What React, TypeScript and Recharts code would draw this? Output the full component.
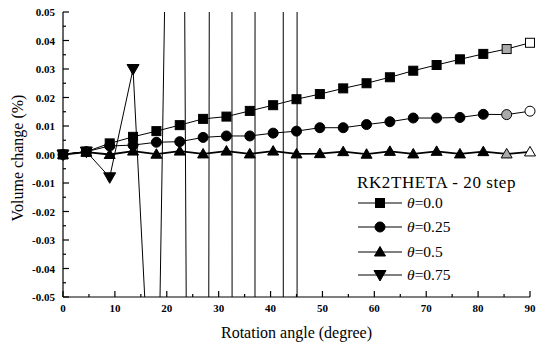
import React from 'react';
import { LineChart, Line, XAxis, YAxis } from 'recharts';

// rotation angle, 20 steps of 4.5 degrees
const angles = [0, 4.5, 9, 13.5, 18, 22.5, 27, 31.5, 36, 40.5, 45, 49.5, 54, 58.5, 63, 67.5, 72, 76.5, 81, 85.5, 90];

// volume change (%) for each theta
const theta00 = [0, 0.001, 0.0039, 0.0062, 0.0082, 0.0103, 0.0125, 0.0133, 0.0153, 0.0173, 0.0194, 0.0212, 0.0232, 0.025, 0.0271, 0.0294, 0.0314, 0.0334, 0.0353, 0.037, 0.0392];
const theta025 = [0, 0.001, 0.003, 0.0033, 0.0043, 0.0045, 0.006, 0.0065, 0.0065, 0.0075, 0.0082, 0.0094, 0.0094, 0.0105, 0.0115, 0.0128, 0.0128, 0.013, 0.0141, 0.014, 0.0152];
const theta05 = [0, 0.0008, 0, 0.0012, 0.0001, 0.0012, 0.0002, 0.0012, 0.0002, 0.0012, 0.0002, 0.0003, 0.001, 0.0001, 0.0011, 0.0002, 0.0011, 0.0002, 0.001, 0.0002, 0.0009];
// theta = 0.75 blows up after ~15 degrees (values far outside the axis range)
const theta075 = [0, 0.001, -0.008, 0.03, -0.13, 0.385, -1.19, 3.5, -11.2, 39, -51, 2000, null, null, null, null, null, null, null, null, null];

const xTicks = [0, 5, 10, 15, 20, 25, 30, 35, 40, 45, 50, 55, 60, 65, 70, 75, 80, 85, 90];
const yTicks = [-0.05, -0.045, -0.04, -0.035, -0.03, -0.025, -0.02, -0.015, -0.01, -0.005, 0, 0.005, 0.01, 0.015, 0.02, 0.025, 0.03, 0.035, 0.04, 0.045, 0.05];

const legendItems = [
  { label: '=0.0', shape: 'square' },
  { label: '=0.25', shape: 'circle' },
  { label: '=0.5', shape: 'up' },
  { label: '=0.75', shape: 'down' },
];

const data = angles.map((a, i) => ({
  angle: a,
  t0: theta00[i],
  t25: theta025[i],
  t5: theta05[i],
  t75: theta075[i],
}));

const FONT = 'Liberation Serif, DejaVu Serif, serif';

const Marker = ({ shape, cx, cy, fill }: any) => {
  const common = { fill, stroke: '#000', strokeWidth: 1 };
  if (shape === 'square') return <rect x={cx - 4.5} y={cy - 4.5} width={9} height={9} {...common} />;
  if (shape === 'circle') return <circle cx={cx} cy={cy} r={5} {...common} />;
  if (shape === 'up') return <polygon points={`${cx},${cy - 5.5} ${cx + 5.5},${cy + 4} ${cx - 5.5},${cy + 4}`} {...common} />;
  return <polygon points={`${cx - 6},${cy - 4.5} ${cx + 6},${cy - 4.5} ${cx},${cy + 6}`} {...common} />;
};

const makeDot = (shape: string) => (props: any) => {
  const { cx, cy, index, value } = props;
  if (cx == null || cy == null || value == null) return <g key={`d-${shape}-${index}`} />;
  let fill = '#000';
  if (index === 19) fill = '#aaa';
  if (index === 20) fill = '#fff';
  return (
    <g key={`d-${shape}-${index}`}>
      <Marker shape={shape} cx={cx} cy={cy} fill={fill} />
    </g>
  );
};

const isMajor = (v: number, step: number) => Math.abs(v / step - Math.round(v / step)) < 1e-6;

const BottomTick = ({ x, y, payload }: any) => {
  const axisY = y - 6;
  const major = isMajor(payload.value, 10);
  return (
    <g>
      <line x1={x} x2={x} y1={axisY} y2={axisY - (major ? 6 : 3)} stroke="#000" strokeWidth={1.2} />
      {major && (
        <text x={x} y={axisY + 15} textAnchor="middle" style={{ fontSize: 11, fontWeight: 'bold', fontFamily: FONT }} fill="#000">
          {payload.value}
        </text>
      )}
    </g>
  );
};

const TopTick = ({ x, y, payload }: any) => {
  const major = isMajor(payload.value, 10);
  return <line x1={x} x2={x} y1={y} y2={y + (major ? 5 : 3)} stroke="#000" strokeWidth={1.2} />;
};

const LeftTick = ({ x, y, payload }: any) => {
  const axisX = x + 8;
  const major = isMajor(payload.value, 0.01);
  return (
    <g>
      <line x1={axisX} x2={axisX + (major ? 6 : 3)} y1={y} y2={y} stroke="#000" strokeWidth={1.2} />
      {major && (
        <text x={axisX - 8} y={y + 4} textAnchor="end" style={{ fontSize: 11, fontWeight: 'bold', fontFamily: FONT }} fill="#000">
          {payload.value.toFixed(2)}
        </text>
      )}
    </g>
  );
};

const RightTick = ({ x, y, payload }: any) => {
  const major = isMajor(payload.value, 0.01);
  return <line x1={x} x2={x - (major ? 5 : 3)} y1={y} y2={y} stroke="#000" strokeWidth={1.2} />;
};

const YTitle = () => (
  <text
    x={17}
    y={158}
    transform="rotate(-90, 17, 158)"
    textAnchor="middle"
    dominantBaseline="central"
    style={{ fontSize: 16, fontFamily: FONT }}
    fill="#000"
  >
    Volume change (%)
  </text>
);

const LegendOverlay = () => {
  const rowY = [203, 227, 252, 275];
  return (
    <svg width={537} height={347} style={{ position: 'absolute', left: 0, top: 0, pointerEvents: 'none' }}>
      <text x={357} y={188} style={{ fontSize: 17, fontFamily: FONT, letterSpacing: 0.6 }} fill="#000">
        RK2THETA - 20 step
      </text>
      {legendItems.map((item, i) => (
        <g key={item.label}>
          <line x1={358} x2={402} y1={rowY[i]} y2={rowY[i]} stroke="#000" strokeWidth={1} />
          <Marker shape={item.shape} cx={380} cy={rowY[i]} fill="#000" />
          <text x={407} y={rowY[i] + 5} style={{ fontSize: 15.5, fontFamily: FONT }} fill="#000">
            <tspan fontStyle="italic">θ</tspan>
            {item.label}
          </text>
        </g>
      ))}
    </svg>
  );
};

const App: React.FC = () => {
  return (
    <div style={{ position: 'absolute', left: 0, top: 0, width: 537, height: 347, background: '#fff', fontFamily: FONT }}>
      <LineChart width={537} height={347} data={data} margin={{ top: 12, right: 7, bottom: 0, left: 0 }}>
        <XAxis
          dataKey="angle"
          type="number"
          domain={[0, 90]}
          ticks={xTicks}
          tickSize={0}
          tickMargin={6}
          tick={<BottomTick />}
          axisLine={{ stroke: '#000', strokeWidth: 1.2 }}
          height={50}
          interval={0}
          label={{
            value: 'Rotation angle (degree)',
            position: 'insideBottom',
            offset: 9,
            style: { fontSize: 16, fontFamily: FONT, fill: '#000' },
          }}
        />
        <XAxis
          xAxisId="top"
          orientation="top"
          dataKey="angle"
          type="number"
          domain={[0, 90]}
          ticks={xTicks}
          tickSize={0}
          tickMargin={0}
          tick={<TopTick />}
          axisLine={{ stroke: '#000', strokeWidth: 1.2 }}
          height={0}
          interval={0}
        />
        <YAxis
          type="number"
          domain={[-0.05, 0.05]}
          ticks={yTicks}
          allowDataOverflow
          tickSize={0}
          tickMargin={8}
          tick={<LeftTick />}
          axisLine={{ stroke: '#000', strokeWidth: 1.2 }}
          width={63}
          interval={0}
          label={{ content: () => <YTitle /> }}
        />
        <YAxis
          yAxisId="right"
          orientation="right"
          type="number"
          domain={[-0.05, 0.05]}
          ticks={yTicks}
          allowDataOverflow
          tickSize={0}
          tickMargin={0}
          tick={<RightTick />}
          axisLine={{ stroke: '#000', strokeWidth: 1.2 }}
          width={0}
          interval={0}
        />
        <Line dataKey="t5" stroke="#000" strokeWidth={1.8} dot={makeDot('up')} isAnimationActive={false} />
        <Line dataKey="t25" stroke="#000" strokeWidth={1} dot={makeDot('circle')} isAnimationActive={false} />
        <Line dataKey="t0" stroke="#000" strokeWidth={1} dot={makeDot('square')} isAnimationActive={false} />
        <Line dataKey="t75" stroke="#000" strokeWidth={1} dot={makeDot('down')} isAnimationActive={false} />
      </LineChart>
      <LegendOverlay />
    </div>
  );
};

export default App;
